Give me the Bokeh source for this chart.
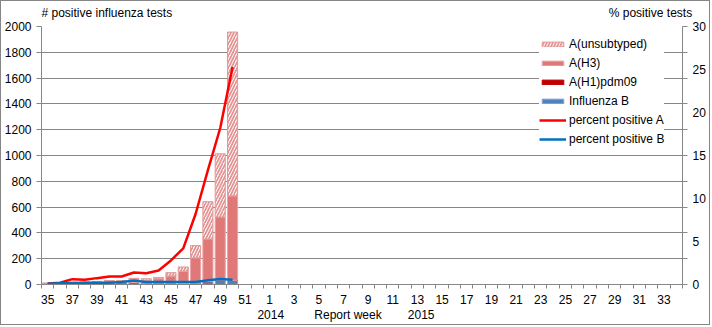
import numpy as np
from bokeh.plotting import figure
from bokeh.models import (Range1d, LinearAxis, FixedTicker, Legend, LegendItem)
from bokeh.embed import file_html
from bokeh.resources import INLINE

# ---- data ----
weeks = list(range(35, 53)) + list(range(1, 35))          # 52 report weeks
data_weeks = list(range(35, 51))                            # weeks with data
flu_b = [3, 3, 4, 5, 5, 6, 12, 15, 10, 10, 10, 8, 10, 22, 33, 32]
a_h1pdm09 = [0, 0, 0, 0, 0, 0, 0, 0, 0, 0, 0, 0, 0, 0, 0, 0]
a_h3 = [7, 10, 14, 13, 18, 25, 19, 30, 20, 35, 55, 95, 197, 330, 490, 655]
a_unsub = [0, 0, 0, 0, 0, 0, 0, 3, 15, 10, 27, 33, 95, 290, 490, 1270]
pct_a = [0.12, 0.2, 0.62, 0.54, 0.74, 0.93, 0.93, 1.4, 1.3, 1.63, 2.8, 4.2, 8.2, 13.3, 18.2, 25.3]
pct_b = [0.1, 0.15, 0.15, 0.2, 0.2, 0.2, 0.3, 0.45, 0.3, 0.3, 0.3, 0.3, 0.3, 0.5, 0.65, 0.55]
left_ticks = list(range(0, 2001, 200))
right_label_ticks = [0, 5, 10, 15, 20, 25, 30]
right_minor_ticks = [0, 3, 6, 9, 12, 15, 18, 21, 24, 27, 30]
bottom_texts = ["2014", "Report  week", "2015"]
top_texts = ["# positive influenza tests", "% positive tests"]

FONT = "Liberation Sans"
GRID = "#868686"

idx = {w: i for i, w in enumerate(weeks)}
x = np.array([idx[w] + 0.5 for w in data_weeks])
b = np.array(flu_b, float)
h1 = np.array(a_h1pdm09, float)
h3 = np.array(a_h3, float)
un = np.array(a_unsub, float)

p = figure(width=710, height=325, output_backend="svg", toolbar_location=None,
           x_range=Range1d(0, len(weeks)), y_range=Range1d(0, 2000),
           min_border_left=39, min_border_right=29, min_border_top=25, min_border_bottom=42)
p.styles = {"border": "1px solid #868686"}
p.background_fill_color = "white"
p.border_fill_color = "white"
p.outline_line_color = None
p.xgrid.grid_line_color = None
p.ygrid.grid_line_color = GRID
p.ygrid.ticker = FixedTicker(ticks=left_ticks)

p.extra_y_ranges = {"pct": Range1d(0, 30)}

w = 0.82
rb = p.vbar(x=x, width=w, bottom=0, top=b, fill_color="#4F81BD", line_color="#8EAADB", line_width=1)
rh1 = p.vbar(x=x, width=w, bottom=b, top=b + h1, fill_color="#C00000", line_color="#C00000", line_width=1)
rh3 = p.vbar(x=x, width=w, bottom=b + h1, top=b + h1 + h3, fill_color="#E07878", line_color="#EBA5A5", line_width=1)
run = p.vbar(x=x, width=w, bottom=b + h1 + h3, top=b + h1 + h3 + un, fill_color="white",
             line_color="#E09A9A", line_width=1, hatch_pattern="/", hatch_color="#E39595",
             hatch_scale=6, hatch_weight=1.8)

la = p.line(x, pct_a, y_range_name="pct", line_color="#FF0000", line_width=2.5)
lb = p.line(x, pct_b, y_range_name="pct", line_color="#0070C0", line_width=2.5)


def style_labels(ax):
    ax.major_label_text_font = FONT
    ax.major_label_text_font_size = "12px"
    ax.major_label_text_color = "#000000"


# x axis
xa = p.xaxis[0]
label_ticks = [i + 0.5 for i in range(0, len(weeks), 2)]
xa.ticker = FixedTicker(ticks=label_ticks, minor_ticks=list(range(0, len(weeks) + 1)))
xa.major_label_overrides = {i + 0.5: str(weeks[i]) for i in range(0, len(weeks), 2)}
xa.major_tick_line_color = None
xa.major_tick_out = 0
xa.major_tick_in = 0
xa.minor_tick_out = 4
xa.minor_tick_in = 0
xa.minor_tick_line_color = GRID
xa.axis_line_color = GRID
xa.major_label_standoff = 6
style_labels(xa)

# second text-only axis below: year and axis title
bpos = [18.6, 25.0, 30.8]
xb = LinearAxis(ticker=FixedTicker(ticks=bpos, minor_ticks=[]))
xb.major_label_overrides = {v: t for v, t in zip(bpos, bottom_texts)}
xb.axis_line_color = None
xb.major_tick_line_color = None
xb.minor_tick_line_color = None
xb.major_tick_out = 0
xb.major_tick_in = 0
xb.major_label_standoff = 1
style_labels(xb)
p.add_layout(xb, "below")

# text-only axis above: the two axis titles
tpos = [5.3, 49.4]
xt = LinearAxis(ticker=FixedTicker(ticks=tpos, minor_ticks=[]))
xt.major_label_overrides = {v: t for v, t in zip(tpos, top_texts)}
xt.axis_line_color = None
xt.major_tick_line_color = None
xt.minor_tick_line_color = None
xt.major_tick_out = 0
xt.major_tick_in = 0
xt.major_label_standoff = 7
style_labels(xt)
p.add_layout(xt, "above")

# left axis
ya = p.yaxis[0]
ya.ticker = FixedTicker(ticks=left_ticks)
ya.minor_tick_line_color = None
ya.major_tick_out = 5
ya.major_tick_in = 0
ya.major_tick_line_color = GRID
ya.axis_line_color = GRID
ya.major_label_standoff = 5
style_labels(ya)

# right axis
ra = LinearAxis(y_range_name="pct", ticker=FixedTicker(ticks=right_label_ticks, minor_ticks=right_minor_ticks))
ra.major_tick_out = 0
ra.major_tick_in = 0
ra.major_tick_line_color = None
ra.minor_tick_out = 5
ra.minor_tick_in = 0
ra.minor_tick_line_color = GRID
ra.axis_line_color = GRID
ra.major_label_standoff = 5
style_labels(ra)
p.add_layout(ra, "right")

legend = Legend(items=[
    LegendItem(label="A(unsubtyped)", renderers=[run]),
    LegendItem(label="A(H3)", renderers=[rh3]),
    LegendItem(label="A(H1)pdm09", renderers=[rh1]),
    LegendItem(label="Influenza B", renderers=[rb]),
    LegendItem(label="percent positive A", renderers=[la]),
    LegendItem(label="percent positive B", renderers=[lb]),
], location=(498, 138))
legend.label_text_font = FONT
legend.label_text_font_size = "12px"
legend.label_text_color = "#000000"
legend.glyph_width = 27
legend.glyph_height = 6
legend.label_height = 15
legend.spacing = 4
legend.padding = 6
legend.margin = 0
legend.label_standoff = 3
legend.border_line_color = None
legend.background_fill_color = "white"
legend.background_fill_alpha = 1
p.add_layout(legend)

open("out.html", "w").write(file_html(p, INLINE))
